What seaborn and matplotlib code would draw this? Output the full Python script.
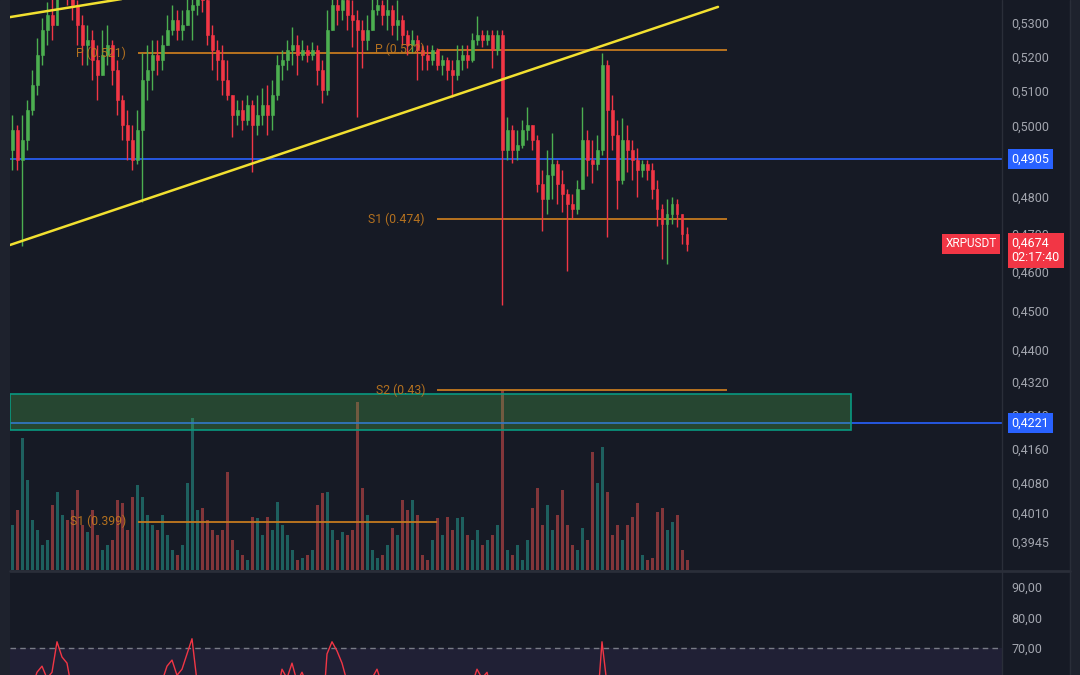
import seaborn as sns
import matplotlib.pyplot as plt
import matplotlib.ticker as mticker
from matplotlib.lines import Line2D
from matplotlib.patches import Rectangle
import numpy as np
import pandas as pd

# ------------------------------------------------------------
# XRPUSDT chart data
# ------------------------------------------------------------
first_open = 0.4931
close = [0.4987, 0.4903, 0.4959, 0.5044, 0.5116, 0.5204, 0.5279, 0.5324, 0.5294, 0.5401,
         0.5416, 0.5394, 0.5355, 0.5294, 0.5234, 0.5249, 0.5189, 0.5145, 0.5204, 0.5234,
         0.5160, 0.5073, 0.5001, 0.4959, 0.4903, 0.4987, 0.5131, 0.5160, 0.5204, 0.5189,
         0.5234, 0.5279, 0.5309, 0.5279, 0.5294, 0.5339, 0.5355, 0.5385, 0.5370, 0.5264,
         0.5219, 0.5189, 0.5131, 0.5087, 0.5030, 0.5044, 0.5016, 0.5058, 0.5001, 0.5030,
         0.5058, 0.5030, 0.5087, 0.5175, 0.5189, 0.5219, 0.5234, 0.5204, 0.5219, 0.5204,
         0.5219, 0.5160, 0.5102, 0.5279, 0.5355, 0.5339, 0.5370, 0.5324, 0.5309, 0.5279,
         0.5249, 0.5279, 0.5339, 0.5355, 0.5324, 0.5339, 0.5294, 0.5309, 0.5264, 0.5234,
         0.5249, 0.5219, 0.5204, 0.5189, 0.5219, 0.5175, 0.5189, 0.5160, 0.5145, 0.5189,
         0.5204, 0.5189, 0.5249, 0.5264, 0.5249, 0.5264, 0.5219, 0.5264, 0.4931, 0.4987,
         0.4931, 0.4945, 0.4987, 0.5001, 0.4959, 0.4835, 0.4794, 0.4862, 0.4890, 0.4835,
         0.4808, 0.4781, 0.4767, 0.4821, 0.4959, 0.4903, 0.4890, 0.4931, 0.5175, 0.5044,
         0.4973, 0.4848, 0.4959, 0.4931, 0.4903, 0.4876, 0.4890, 0.4876, 0.4821, 0.4767,
         0.4727, 0.4754, 0.4781, 0.4754, 0.4700, 0.4674]
high = [0.5030, 0.5001, 0.5030, 0.5073, 0.5160, 0.5255, 0.5315, 0.5364, 0.5385, 0.5447,
        0.5463, 0.5447, 0.5416, 0.5370, 0.5324, 0.5294, 0.5279, 0.5234, 0.5279, 0.5294,
        0.5249, 0.5189, 0.5087, 0.5044, 0.5001, 0.5044, 0.5210, 0.5234, 0.5249, 0.5249,
        0.5264, 0.5324, 0.5355, 0.5339, 0.5339, 0.5385, 0.5401, 0.5431, 0.5416, 0.5385,
        0.5294, 0.5249, 0.5234, 0.5189, 0.5087, 0.5073, 0.5073, 0.5087, 0.5073, 0.5087,
        0.5108, 0.5116, 0.5131, 0.5204, 0.5219, 0.5249, 0.5288, 0.5264, 0.5249, 0.5234,
        0.5243, 0.5234, 0.5189, 0.5339, 0.5401, 0.5385, 0.5416, 0.5385, 0.5370, 0.5339,
        0.5309, 0.5324, 0.5385, 0.5401, 0.5370, 0.5385, 0.5355, 0.5370, 0.5324, 0.5279,
        0.5279, 0.5264, 0.5234, 0.5234, 0.5234, 0.5225, 0.5204, 0.5198, 0.5189, 0.5234,
        0.5234, 0.5234, 0.5270, 0.5321, 0.5279, 0.5279, 0.5279, 0.5279, 0.5279, 0.5024,
        0.5001, 0.4987, 0.5016, 0.5053, 0.5001, 0.4973, 0.4876, 0.4931, 0.4979, 0.4903,
        0.4876, 0.4821, 0.4808, 0.4848, 0.5053, 0.4987, 0.4959, 0.4973, 0.5210, 0.5189,
        0.5087, 0.5016, 0.5021, 0.5001, 0.4959, 0.4937, 0.4903, 0.4903, 0.4895, 0.4848,
        0.4781, 0.4794, 0.4800, 0.4794, 0.4754, 0.4719]
low = [0.4876, 0.4876, 0.4668, 0.4931, 0.5030, 0.5087, 0.5175, 0.5234, 0.5249, 0.5339,
       0.5376, 0.5355, 0.5309, 0.5234, 0.5175, 0.5175, 0.5131, 0.5073, 0.5145, 0.5175,
       0.5116, 0.5030, 0.4959, 0.4903, 0.4876, 0.4890, 0.4786, 0.5073, 0.5102, 0.5145,
       0.5160, 0.5234, 0.5264, 0.5249, 0.5249, 0.5294, 0.5249, 0.5324, 0.5333, 0.5234,
       0.5160, 0.5131, 0.5087, 0.5073, 0.4967, 0.5001, 0.4987, 0.5001, 0.4868, 0.4973,
       0.5001, 0.4973, 0.4987, 0.5073, 0.5131, 0.5160, 0.5175, 0.5145, 0.5189, 0.5183,
       0.5189, 0.5116, 0.5064, 0.5087, 0.5294, 0.5294, 0.5309, 0.5279, 0.5228, 0.5024,
       0.5166, 0.5219, 0.5309, 0.5324, 0.5294, 0.5279, 0.5264, 0.5249, 0.5234, 0.5204,
       0.5210, 0.5131, 0.5160, 0.5160, 0.5175, 0.5160, 0.5145, 0.5131, 0.5081, 0.5131,
       0.5160, 0.5166, 0.5183, 0.5234, 0.5228, 0.5234, 0.5166, 0.5204, 0.4513, 0.4903,
       0.4895, 0.4903, 0.4937, 0.4959, 0.4931, 0.4813, 0.4708, 0.4754, 0.4794, 0.4781,
       0.4759, 0.4603, 0.4740, 0.4754, 0.4821, 0.4857, 0.4840, 0.4876, 0.4917, 0.4692,
       0.4931, 0.4767, 0.4835, 0.4868, 0.4848, 0.4800, 0.4854, 0.4848, 0.4794, 0.4722,
       0.4634, 0.4621, 0.4727, 0.4719, 0.4673, 0.4655]
# volume in millions XRP
volume = [4.5, 6.0, 13.2, 9.0, 5.0, 4.0, 2.5, 3.0, 6.5, 7.8,
          5.5, 5.0, 6.0, 8.0, 4.5, 3.8, 6.0, 3.5, 2.0, 2.5,
          3.0, 7.0, 6.7, 4.0, 7.3, 8.5, 7.3, 5.5, 4.5, 4.0,
          5.5, 3.5, 2.0, 1.5, 2.5, 8.7, 15.2, 6.0, 6.2, 5.0,
          4.0, 3.5, 4.0, 9.8, 3.0, 2.0, 1.5, 1.0, 5.3, 5.2,
          3.5, 5.3, 4.0, 6.8, 4.5, 3.5, 2.0, 1.0, 1.2, 1.5,
          2.0, 6.5, 7.7, 7.8, 4.0, 3.0, 3.8, 3.5, 4.0, 16.8,
          8.2, 5.5, 2.0, 1.2, 1.5, 2.5, 4.2, 3.5, 7.0, 6.0,
          7.0, 5.5, 1.5, 1.0, 3.0, 5.2, 3.5, 5.3, 4.0, 5.2,
          5.3, 3.5, 3.0, 4.0, 2.5, 3.0, 3.5, 4.5, 18.0, 2.0,
          1.5, 2.5, 1.0, 3.0, 6.2, 8.2, 4.5, 6.5, 4.0, 5.5,
          8.0, 4.5, 2.5, 2.0, 4.2, 3.0, 11.8, 8.7, 12.3, 7.8,
          3.5, 4.5, 3.0, 4.5, 5.3, 6.7, 1.5, 1.0, 1.2, 5.8,
          6.2, 4.0, 4.8, 5.5, 2.0, 1.0]
rsi = [42, 40, 46, 52, 57, 62, 64, 60, 62, 72,
       67, 65, 56, 52, 48, 50, 46, 44, 50, 53,
       47, 41, 37, 35, 33, 39, 48, 51, 55, 54,
       59, 64, 66, 61, 63, 68, 73, 59, 57, 48,
       44, 42, 38, 36, 33, 35, 34, 38, 35, 39,
       42, 40, 46, 55, 63, 60, 65, 59, 62, 58,
       57, 50, 45, 68, 72, 69, 65, 59, 56, 53,
       50, 54, 60, 63, 58, 59, 53, 55, 50, 47,
       49, 46, 45, 44, 48, 43, 45, 42, 41, 48,
       50, 49, 58, 63, 60, 62, 55, 60, 28, 35,
       32, 34, 38, 40, 37, 30, 28, 35, 38, 34,
       33, 31, 30, 36, 50, 46, 45, 50, 72, 58,
       52, 44, 50, 48, 46, 44, 45, 44, 40, 36,
       33, 36, 39, 37, 33, 31]

symbol = "XRPUSDT"
last_price = 0.4674
countdown = "02:17:40"

price_ticks = [0.5300, 0.5200, 0.5100, 0.5000, 0.4800, 0.4700, 0.4600, 0.4500,
               0.4400, 0.4320, 0.4240, 0.4160, 0.4080, 0.4010, 0.3945]
rsi_ticks = [90, 80, 70]

# pivot points (label, level, first candle, last candle)
pivot_names = ["P (0.521)", "S1 (0.399)", "P (0.522)", "S1 (0.474)", "S2 (0.43)"]
pivot_levels = [0.521, 0.399, 0.522, 0.474, 0.43]
pivot_start = [25.2, 25.2, 85.0, 85.0, 85.0]
pivot_end = [85.0, 85.0, 143.0, 143.0, 143.0]

# drawn trendlines: (candle, price) anchors
trend_lower_x = [-0.4, 141.2]
trend_lower_y = [0.4671, 0.5349]
trend_upper_x = [-0.4, 40.0]
trend_upper_y = [0.5318, 0.5418]

h_levels = [0.4905, 0.4221]
zone_low, zone_high, zone_end = 0.4204, 0.4291, 167.8

# ------------------------------------------------------------
BG = '#161a25'
GRID = '#2a2e39'
UP, DOWN = '#4caf50', '#f23645'
ORANGE = '#c47a1f'
BLUE = '#2962ff'
TXT = '#a3a6af'

sns.set_style("dark", {"axes.facecolor": BG, "figure.facecolor": BG})
plt.rcParams['font.family'] = ['Roboto', 'DejaVu Sans']

df = pd.DataFrame({'close': close, 'high': high, 'low': low,
                   'volume': volume, 'rsi': rsi})
df['open'] = [first_open] + close[:-1]
df['high'] = df[['high', 'open', 'close']].max(axis=1)
df['low'] = df[['low', 'open', 'close']].min(axis=1)
df['up'] = df['close'] >= df['open']
df['x'] = np.arange(len(df))

W, H = 1080, 675
fig = plt.figure(figsize=(W / 100, H / 100), dpi=100, facecolor=BG)


def rect(l, t, r, b):
    return [l / W, 1 - b / H, (r - l) / W, (b - t) / H]


ax_vol = fig.add_axes(rect(10, 0, 1002, 570), zorder=0)
ax = fig.add_axes(rect(10, 0, 1002, 570), zorder=1)
ax_rsi = fig.add_axes(rect(10, 572, 1002, 675), zorder=1)
ax.patch.set_visible(False)

XMIN, XMAX = -0.4, 198.0
for a in (ax_vol, ax, ax_rsi):
    a.set_xlim(XMIN, XMAX)
    for s in a.spines.values():
        s.set_visible(False)
    a.tick_params(axis='x', bottom=False, labelbottom=False)
    a.grid(False)

# ---- volume (background) ----
vol_colors = np.where(df['up'], '#26a69a', '#ef5350')
ax_vol.bar(df['x'], df['volume'], width=0.6, color=vol_colors, alpha=0.5, linewidth=0)
ax_vol.set_ylim(0, 57)
ax_vol.set_yticks([])
ax_vol.set_facecolor(BG)

# ---- price pane ----
ax.set_yscale('log')
ax.set_ylim(0.3882, 0.5370)
ax.yaxis.set_major_locator(mticker.FixedLocator(price_ticks))
ax.yaxis.set_minor_locator(mticker.NullLocator())
ax.yaxis.set_major_formatter(mticker.FuncFormatter(lambda v, p: f"{v:.4f}".replace('.', ',')))
ax.yaxis.tick_right()
ax.tick_params(axis='y', length=0, pad=7, labelcolor=TXT, labelsize=9)

colors = np.where(df['up'], UP, DOWN)
ax.vlines(df['x'], df['low'], df['high'], colors=colors, linewidth=1, zorder=3)
body_bottom = df[['open', 'close']].min(axis=1)
body_h = (df['open'] - df['close']).abs()
ax.bar(df['x'], body_h, bottom=body_bottom, width=0.6, color=colors,
       edgecolor=colors, linewidth=0.4, zorder=4)

# horizontal levels
for lv in h_levels:
    ax.axhline(lv, color=BLUE, lw=1.2, zorder=2)
    ax.annotate(f"{lv:.4f}".replace('.', ','), xy=(1, lv), xycoords=('axes fraction', 'data'),
                xytext=(7, 0), textcoords='offset points', ha='left', va='center',
                color='white', fontsize=9, annotation_clip=False, zorder=10,
                bbox=dict(boxstyle='square,pad=0.3', fc=BLUE, ec='none'))

# demand zone
ax.add_patch(Rectangle((XMIN, zone_low), zone_end - XMIN, zone_high - zone_low,
                       facecolor=(0.298, 0.686, 0.314, 0.3), edgecolor='#089981',
                       lw=1.2, zorder=2.5))

# pivots
for name, lv, s, e in zip(pivot_names, pivot_levels, pivot_start, pivot_end):
    ax.hlines(lv, s, e, color=ORANGE, lw=1.3, zorder=2.6)
    ax.text(s - 2.4, lv, name, ha='right', va='center', color=ORANGE, fontsize=8.8,
            alpha=0.9, zorder=6)

# trendlines
ax.plot(trend_lower_x, trend_lower_y, color='#f2e030', lw=1.8, zorder=5, solid_capstyle='round')
ax.plot(trend_upper_x, trend_upper_y, color='#f2e030', lw=1.8, zorder=5, solid_capstyle='round')

# last price tags
ax.annotate(symbol, xy=(1, last_price), xycoords=('axes fraction', 'data'),
            xytext=(-4, 0), textcoords='offset points', ha='right', va='center',
            color='white', fontsize=8.5, annotation_clip=False, zorder=10,
            bbox=dict(boxstyle='square,pad=0.3', fc=DOWN, ec='none'))
ax.annotate(f"{last_price:.4f}".replace('.', ',') + "\n" + countdown,
            xy=(1, last_price), xycoords=('axes fraction', 'data'),
            xytext=(7, 5), textcoords='offset points', ha='left', va='top',
            color='white', fontsize=9, linespacing=1.15, annotation_clip=False, zorder=10,
            bbox=dict(boxstyle='square,pad=0.3', fc=DOWN, ec='none'))

# ---- RSI pane ----
ax_rsi.set_facecolor(BG)
ax_rsi.axhspan(30, 70, color='#7e57c2', alpha=0.1, lw=0)
ax_rsi.axhline(70, color='#787b86', lw=1, ls=(0, (4, 3)))
sns.lineplot(x=df['x'], y=df['rsi'], ax=ax_rsi, color='#f23645', lw=1)
ax_rsi.set_ylim(61.1, 94.9)
ax_rsi.set_xlim(XMIN, XMAX)
ax_rsi.set_xlabel('')
ax_rsi.set_ylabel('')
ax_rsi.yaxis.set_major_locator(mticker.FixedLocator(rsi_ticks))
ax_rsi.yaxis.set_major_formatter(mticker.FuncFormatter(lambda v, p: f"{v:.2f}".replace('.', ',')))
ax_rsi.yaxis.tick_right()
ax_rsi.tick_params(axis='y', length=0, pad=7, labelcolor=TXT, labelsize=9)

# ---- frame: side strips and separators ----
fig.add_artist(Rectangle((0, 0), 10 / W, 1, transform=fig.transFigure, color='#1e222d', zorder=-1))
fig.add_artist(Rectangle((1070 / W, 0), 10 / W, 1, transform=fig.transFigure, color='#1e222d', zorder=-1))
fig.add_artist(Line2D([10 / W, 1070 / W], [1 - 571 / H] * 2, color=GRID, lw=2))
fig.add_artist(Line2D([1002 / W] * 2, [0, 1], color=GRID, lw=1))
fig.add_artist(Line2D([1070 / W] * 2, [0, 1], color=GRID, lw=1))

fig.savefig('out.png', dpi=100, facecolor=BG)
